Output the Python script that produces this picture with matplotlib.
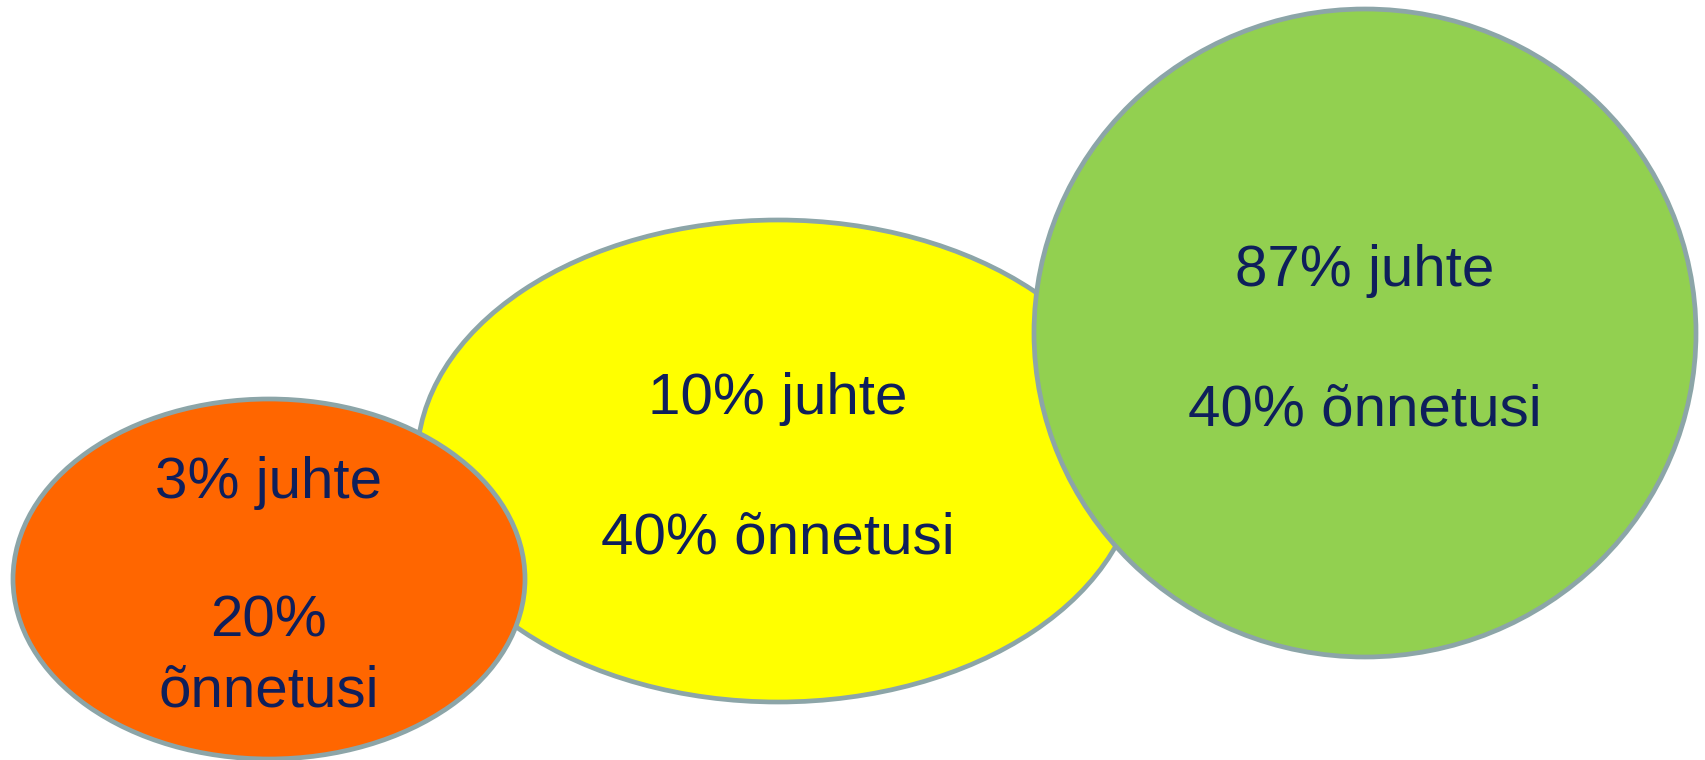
import matplotlib.pyplot as plt
from matplotlib.patches import Ellipse

# share of drivers vs share of accidents for each group
driver_share = [3, 10, 87]
accident_share = [20, 40, 40]
fill_colors = ["#FF6600", "#FFFF00", "#92D050"]

# label text for each bubble (orange one wraps its second line)
labels = [
    "{}% juhte\n\n{}%\nõnnetusi".format(driver_share[0], accident_share[0]),
    "{}% juhte\n\n{}% õnnetusi".format(driver_share[1], accident_share[1]),
    "{}% juhte\n\n{}% õnnetusi".format(driver_share[2], accident_share[2]),
]

# layout: centre x, centre y, width, height (pixels, y down)
centers = [(269, 579), (778, 461), (1365, 333)]
sizes = [(512, 360), (722, 482), (662, 648)]
draw_order = [1, 0, 2]  # yellow underneath, orange and green on top
line_step = 69.5
baseline_shift = 23

plt.rcParams["font.family"] = ["Liberation Sans", "DejaVu Sans"]

fig = plt.figure(figsize=(17.06, 7.6), dpi=100)
ax = fig.add_axes([0, 0, 1, 1])
ax.set_xlim(0, 1706)
ax.set_ylim(760, 0)
ax.set_aspect("equal")
ax.axis("off")

for z, i in enumerate(draw_order):
    cx, cy = centers[i]
    w, h = sizes[i]
    ell = Ellipse((cx, cy), w, h, facecolor=fill_colors[i],
                  edgecolor="#8CA5A8", linewidth=3.4, zorder=z + 1)
    ax.add_patch(ell)
    # one text per line so blank lines keep the full line height
    lines = labels[i].split("\n")
    n = len(lines)
    for k, line in enumerate(lines):
        if not line:
            continue
        y = cy + baseline_shift + (k - (n - 1) / 2) * line_step
        ax.text(cx, y, line, ha="center", va="baseline", fontsize=42,
                color="#0E1F5B", zorder=10 + z)

fig.savefig("out.png", dpi=100)
